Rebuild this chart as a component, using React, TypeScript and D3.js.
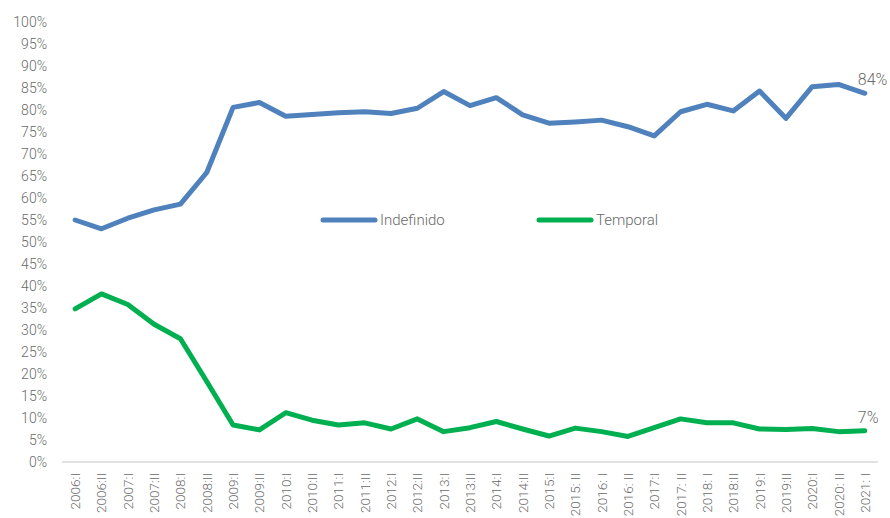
import React from "react";
import * as d3 from "d3";

const categories = [
  "2006:I", "2006:II", "2007:I", "2007:II", "2008:I", "2008:II", "2009:I", "2009:II",
  "2010:I", "2010:II", "2011:I", "2011:II", "2012:I", "2012:II", "2013:I", "2013:II",
  "2014:I", "2014:II", "2015:I", "2015: II", "2016: I", "2016: II", "2017:I", "2017: II",
  "2018: I", "2018:II", "2019:I", "2019:II", "2020:I", "2020: II", "2021: I",
];

const indefinido = [
  55.0, 53.0, 55.4, 57.3, 58.6, 65.8, 80.6, 81.7, 78.6, 79.0, 79.4, 79.6, 79.2, 80.4, 84.2, 81.0,
  82.8, 78.9, 77.0, 77.3, 77.7, 76.2, 74.1, 79.6, 81.3, 79.8, 84.3, 78.1, 85.3, 85.8, 83.8,
];

const temporal = [
  34.8, 38.2, 35.8, 31.3, 28.0, 18.3, 8.4, 7.3, 11.2, 9.5, 8.4, 8.9, 7.5, 9.8, 6.9, 7.8,
  9.2, 7.5, 5.9, 7.7, 6.9, 5.8, 7.8, 9.8, 8.9, 8.9, 7.5, 7.4, 7.6, 6.9, 7.1,
];

const yTicks = d3.range(0, 101, 5);

const seriesNames = ["Indefinido", "Temporal"];
const seriesColors = ["#4f81bd", "#00b050"];
const endLabels = ["84%", "7%"];

export default function App() {
  const width = 890;
  const height = 518;
  const x = d3.scaleBand<string>().domain(categories).range([62, 878]);
  const y = d3.scaleLinear().domain([0, 100]).range([462, 22]);
  const cx = (c: string) => (x(c) as number) + x.bandwidth() / 2;
  const line = d3
    .line<number>()
    .x((_, i) => cx(categories[i]))
    .y((d) => y(d));
  const series = [indefinido, temporal];
  const font = "Roboto, 'Noto Sans', sans-serif";
  const textColor = "#6a6a6a";

  return (
    <svg
      width={width}
      height={height}
      style={{ position: "absolute", left: 0, top: 0 }}
      fontFamily={font}
      fontWeight={300}
    >
      <rect width={width} height={height} fill="#fff" />
      {yTicks.map((t) => (
        <text
          key={t}
          x={47}
          y={y(t)}
          dy="0.35em"
          textAnchor="end"
          fontSize={14}
          fill={textColor}
        >
          {t}%
        </text>
      ))}
      <line x1={62} x2={878} y1={y(0)} y2={y(0)} stroke="#d9d9d9" strokeWidth={1.5} />
      {categories.map((c) => (
        <text
          key={c}
          transform={`translate(${cx(c) + 5},${y(0) + 11}) rotate(-90)`}
          textAnchor="end"
          fontSize={13.5}
          fill={textColor}
        >
          {c}
        </text>
      ))}
      {series.map((s, i) => (
        <path
          key={i}
          d={line(s) || ""}
          fill="none"
          stroke={seriesColors[i]}
          strokeWidth={5}
          strokeLinejoin="round"
          strokeLinecap="round"
        />
      ))}
      {series.map((s, i) => (
        <text
          key={"lab" + i}
          x={cx(categories[categories.length - 1]) - 7}
          y={y(s[s.length - 1]) - 8}
          fontSize={16}
          fill={textColor}
        >
          {endLabels[i]}
        </text>
      ))}
      {seriesNames.map((n, i) => {
        const lx = 323 + i * 216;
        const ly = 220;
        return (
          <g key={n}>
            <line
              x1={lx}
              x2={lx + 52}
              y1={ly}
              y2={ly}
              stroke={seriesColors[i]}
              strokeWidth={5}
              strokeLinecap="round"
            />
            <text x={lx + 57} y={ly} dy="0.35em" fontSize={15} fill={textColor}>
              {n}
            </text>
          </g>
        );
      })}
    </svg>
  );
}
